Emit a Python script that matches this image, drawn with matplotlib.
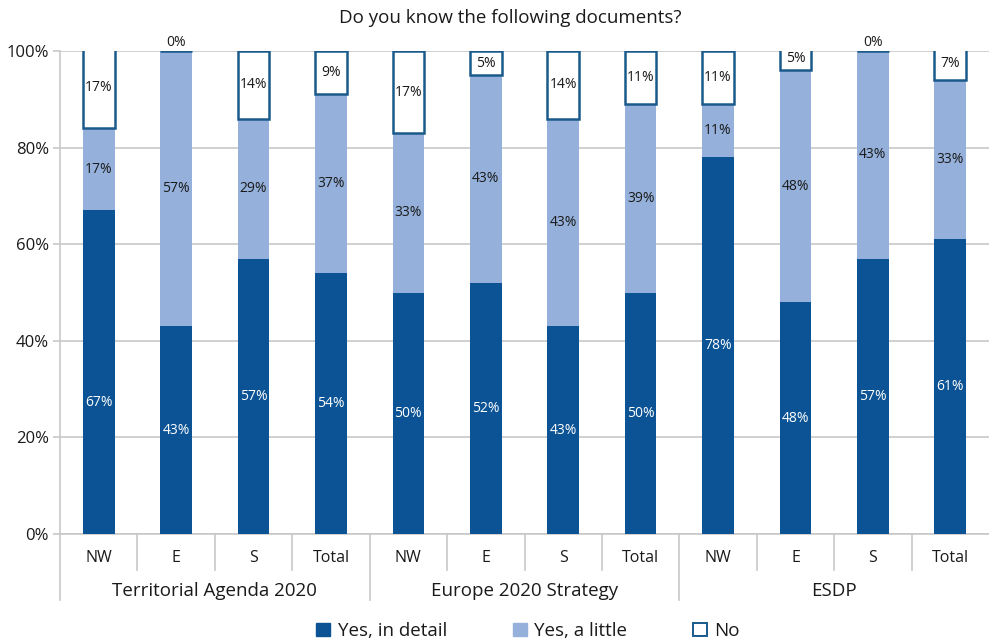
import matplotlib
matplotlib.use("Agg")
import matplotlib.pyplot as plt
from matplotlib.patches import Patch
import numpy as np

plt.rcParams['font.family'] = ['Open Sans', 'DejaVu Sans']

groups = ["Territorial Agenda 2020", "Europe 2020 Strategy", "ESDP"]
regions = ["NW", "E", "S", "Total"]
yes_detail = [67, 43, 57, 54, 50, 52, 43, 50, 78, 48, 57, 61]
yes_little = [17, 57, 29, 37, 33, 43, 43, 39, 11, 48, 43, 33]
no = [17, 0, 14, 9, 17, 5, 14, 11, 11, 5, 0, 7]

dark = "#0b5394"
light = "#95b1db"
edge = "#1a5a8a"
grid_c = "#c8c8c8"
txt = "#1a1a1a"

fig = plt.figure(figsize=(9.89, 6.41), dpi=100)
ax = fig.add_axes([60/989, 1-534/641, 1-60/989, (534-51)/641])

n = len(yes_detail)
x = np.arange(n)
w = 0.41
yd = np.array(yes_detail, float)
yl = np.array(yes_little, float)
yn = np.array(no, float)

ax.bar(x, yd, w, color=dark, zorder=3)
ax.bar(x, yl, w, bottom=yd, color=light, zorder=3)
ax.bar(x, yn, w, bottom=yd+yl, color="white", edgecolor=edge, linewidth=1.8, zorder=3)

# the first bar's inner label sits a little lower than the segment centre
detail_nudge = {0: -30}

for i in range(n):
    ax.annotate(f"{yes_detail[i]}%", (x[i], yd[i]/2),
                xytext=(0, detail_nudge.get(i, 0)), textcoords="offset pixels",
                ha="center", va="center", color="white", fontsize=10, zorder=4)
    ax.text(x[i], yd[i]+yl[i]/2, f"{yes_little[i]}%", ha="center", va="center",
            color=txt, fontsize=10, zorder=4)
    if no[i] == 0:
        ax.text(x[i], yd[i]+yl[i]+0.3, f"{no[i]}%", ha="center", va="bottom",
                color=txt, fontsize=10, zorder=4)
    else:
        ax.text(x[i], yd[i]+yl[i]+yn[i]/2, f"{no[i]}%", ha="center", va="center",
                color=txt, fontsize=10, zorder=4)

ax.set_xlim(-0.5, n-0.5)
ax.set_ylim(0, 100)
ax.set_yticks([0, 20, 40, 60, 80, 100])
ax.set_yticklabels([f"{v}%" for v in [0, 20, 40, 60, 80, 100]], fontsize=12, color=txt)
ax.yaxis.grid(True, color=grid_c, linewidth=1.2, zorder=0)
ax.set_axisbelow(True)
ax.tick_params(axis="y", length=5, color=grid_c, width=1.2, pad=3)
ax.set_xticks([])
for s in ["top", "right"]:
    ax.spines[s].set_visible(False)
ax.spines["left"].set_color(grid_c)
ax.spines["left"].set_linewidth(1.2)
ax.spines["bottom"].set_color(grid_c)
ax.spines["bottom"].set_linewidth(1.2)

trans = ax.get_xaxis_transform()
short = -(570-534)/483
long_ = -(600-534)/483
for i in range(n):
    ax.text(x[i], -(558-534)/483, regions[i % 4], transform=trans, ha="center",
            va="center", fontsize=11.5, color=txt)
for i in range(n-1):
    xs = i + 0.5
    depth = long_ if (i+1) % 4 == 0 else short
    ax.plot([xs, xs], [0, depth], transform=trans, color=grid_c, lw=1.2, clip_on=False)
ax.plot([-0.5, -0.5], [0, long_], transform=trans, color=grid_c, lw=1.2, clip_on=False)
for g, name in enumerate(groups):
    ax.text(g*4 + 1.5, -(591-534)/483, name, transform=trans, ha="center",
            va="center", fontsize=13.5, color=txt)

fig.text(510/989, 1-18/641, "Do you know the following documents?", ha="center",
         va="center", fontsize=13.5, color=txt)

handles = [Patch(facecolor=dark, edgecolor=dark),
           Patch(facecolor=light, edgecolor=light),
           Patch(facecolor="white", edgecolor=edge, linewidth=1.4)]
fig.legend(handles, ["Yes, in detail", "Yes, a little", "No"], ncol=3,
           loc="center", bbox_to_anchor=(528/989, 1-631/641), frameon=False,
           fontsize=13.5, handlelength=0.75, handleheight=0.75, handletextpad=0.4,
           columnspacing=3.5, labelcolor=txt)

fig.savefig("out.png", dpi=100)
